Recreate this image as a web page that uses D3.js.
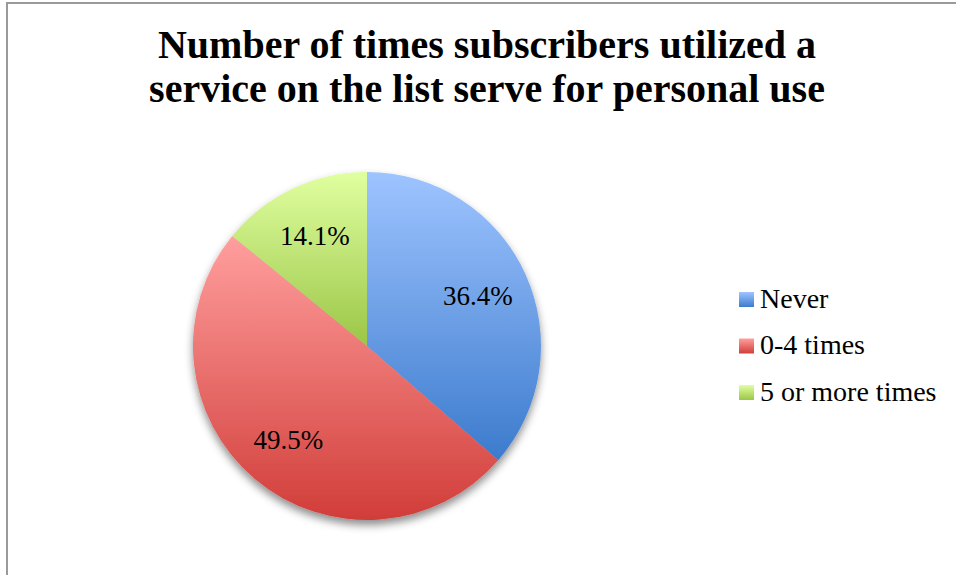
<!DOCTYPE html>
<html>
<head>
<meta charset="utf-8">
<script src="https://cdn.jsdelivr.net/npm/d3@7"></script>
<style>
  body { margin: 0; background: #fff; }
  svg { display: block; }
</style>
</head>
<body>
<svg width="956" height="575"></svg>
<script>
let categories = ["Never", "0-4 times", "5 or more times"];
let values = [36.4, 49.5, 14.1];
let titleLines = ["Number of times subscribers utilized a", "service on the list serve for personal use"];

// light (top) / dark (bottom) colour for each slice gradient
let topColors = ["#9ec4ff", "#ff9f9e", "#e0ffa0"];
let bottomColors = ["#3c7bcd", "#d13d39", "#9bc647"];

let svg = d3.select("svg"),
    cx = 367, cy = 346, radius = 174;

let defs = svg.append("defs");

let shadow = defs.append("filter")
    .attr("id", "shadow")
    .attr("x", "-20%").attr("y", "-20%")
    .attr("width", "140%").attr("height", "140%");
shadow.append("feDropShadow")
    .attr("dx", 0).attr("dy", 5)
    .attr("stdDeviation", 4)
    .attr("flood-color", "#000")
    .attr("flood-opacity", 0.45);

categories.forEach(function(c, i) {
  let grad = defs.append("linearGradient")
      .attr("id", "grad" + i)
      .attr("x1", 0).attr("y1", 0).attr("x2", 0).attr("y2", 1);
  grad.append("stop").attr("offset", "0%").attr("stop-color", topColors[i]);
  grad.append("stop").attr("offset", "100%").attr("stop-color", bottomColors[i]);
});

// chart border (left and top visible)
svg.append("path")
    .attr("d", "M7,575 V3 H956")
    .attr("fill", "none")
    .attr("stroke", "#9a9a9a")
    .attr("stroke-width", 2);

// title
let title = svg.append("text")
    .attr("x", 487)
    .attr("text-anchor", "middle")
    .style("font-family", "'Liberation Serif', 'DejaVu Serif', serif")
    .style("font-weight", "bold")
    .style("font-size", "40px")
    .attr("fill", "#000");
title.selectAll("tspan")
  .data(titleLines)
  .enter().append("tspan")
    .attr("x", 487)
    .attr("y", function(d, i) { return 58 + i * 44; })
    .text(function(d) { return d; });

let pie = d3.pie().sort(null).value(function(d) { return d; });
let arc = d3.arc().innerRadius(0).outerRadius(radius);
let labelArc = d3.arc().innerRadius(radius * 0.7).outerRadius(radius * 0.7);

let g = svg.append("g")
    .attr("transform", "translate(" + cx + "," + cy + ")");

let slices = g.append("g").attr("filter", "url(#shadow)");
slices.selectAll("path")
  .data(pie(values))
  .enter().append("path")
    .attr("d", arc)
    .attr("fill", function(d, i) { return "url(#grad" + i + ")"; });

g.selectAll(".label")
  .data(pie(values))
  .enter().append("text")
    .attr("class", "label")
    .attr("transform", function(d) {
      let c = labelArc.centroid(d);
      return "translate(" + c[0] + "," + c[1] + ")";
    })
    .attr("dy", "0.35em")
    .attr("text-anchor", "middle")
    .style("font-family", "'Liberation Serif', 'DejaVu Serif', serif")
    .style("font-size", "27px")
    .attr("fill", "#000")
    .text(function(d) { return d.data.toFixed(1) + "%"; });

// legend
let legend = svg.append("g")
    .attr("transform", "translate(739,292)");

let items = legend.selectAll(".item")
  .data(categories)
  .enter().append("g")
    .attr("class", "item")
    .attr("transform", function(d, i) { return "translate(0," + (i * 46.5) + ")"; });

items.append("rect")
    .attr("width", 15)
    .attr("height", 15)
    .attr("fill", function(d, i) { return "url(#grad" + i + ")"; });

items.append("text")
    .attr("x", 21)
    .attr("y", 15.5)
    .style("font-family", "'Liberation Serif', 'DejaVu Serif', serif")
    .style("font-size", "28px")
    .attr("fill", "#000")
    .text(function(d) { return d; });
</script>
</body>
</html>
